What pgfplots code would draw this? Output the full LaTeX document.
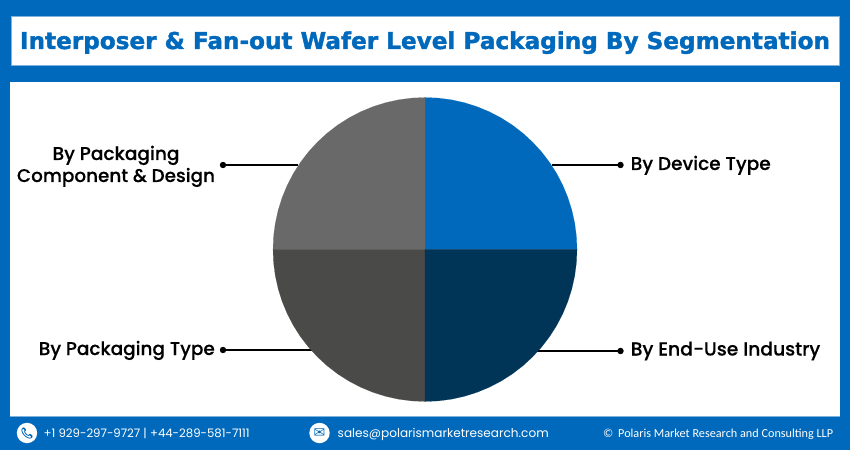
\documentclass[border=0pt]{standalone}
\usepackage{pgfplots}
\pgfplotsset{compat=1.18}
\usepackage{fontspec}
\setmainfont{Poppins}
\newfontfamily\titlefont{DejaVu Sans Bold}[FakeBold=1.6]
\newfontfamily\labelfont{Poppins Medium}[FakeBold=0.2]
\newfontfamily\copyfont{Carlito}
\newfontfamily\symfont{DejaVu Sans}
\newfontfamily\emojifont{Noto Emoji}[FakeBold=2]
\definecolor{pblue}{HTML}{0069BB}
\definecolor{pgrayA}{HTML}{696969}
\definecolor{pgrayB}{HTML}{4A4A48}
\definecolor{pnavy}{HTML}{003557}
\definecolor{pedge}{HTML}{7FB2DC}
\newcommand{\fit}[2]{\resizebox{#1pt}{!}{#2}}
\begin{document}
\begin{tikzpicture}[x=1pt,y=1pt]
\useasboundingbox (0,0) rectangle (850,450);
\fill[pblue] (0,0) rectangle (850,450);
\fill[white] (10,34) rectangle (840,368);
\draw[pedge,line width=0.7pt] (10,33.8) -- (840,33.8);
\draw[pedge,line width=0.7pt,fill=white] (11.3,385) rectangle (839.7,434);
\begin{axis}[at={(0,0)},anchor=south west,scale only axis,width=850pt,height=450pt,
  xmin=-425,xmax=425,ymin=-200.5,ymax=249.5,hide axis,clip=false]
% leader lines
\addplot[black,line width=1.1pt,mark=*,mark size=2.6pt,mark indices={2}] coordinates {(127,84.5) (195.5,84.5)};
\addplot[black,line width=1.1pt,mark=*,mark size=2.6pt,mark indices={2}] coordinates {(100,-101.5) (195.5,-101.5)};
\addplot[black,line width=1.1pt,mark=*,mark size=2.6pt,mark indices={2}] coordinates {(-127,84.5) (-202,84.5)};
\addplot[black,line width=1.1pt,mark=*,mark size=2.6pt,mark indices={2}] coordinates {(-100,-100.5) (-202,-100.5)};
% four equal wedges, 25 % each
\addplot[fill=pblue,draw=pblue,line width=0.1pt,data cs=polar] coordinates {(0,0) (0,152) (5,152) (10,152) (15,152) (20,152) (25,152) (30,152) (35,152) (40,152) (45,152) (50,152) (55,152) (60,152) (65,152) (70,152) (75,152) (80,152) (85,152) (90,152)} -- cycle;
\addplot[fill=pgrayA,draw=pgrayA,line width=0.1pt,data cs=polar] coordinates {(0,0) (90,152) (95,152) (100,152) (105,152) (110,152) (115,152) (120,152) (125,152) (130,152) (135,152) (140,152) (145,152) (150,152) (155,152) (160,152) (165,152) (170,152) (175,152) (180,152)} -- cycle;
\addplot[fill=pgrayB,draw=pgrayB,line width=0.1pt,data cs=polar] coordinates {(0,0) (180,152) (185,152) (190,152) (195,152) (200,152) (205,152) (210,152) (215,152) (220,152) (225,152) (230,152) (235,152) (240,152) (245,152) (250,152) (255,152) (260,152) (265,152) (270,152)} -- cycle;
\addplot[fill=pnavy,draw=pnavy,line width=0.1pt,data cs=polar] coordinates {(0,0) (270,152) (275,152) (280,152) (285,152) (290,152) (295,152) (300,152) (305,152) (310,152) (315,152) (320,152) (325,152) (330,152) (335,152) (340,152) (345,152) (350,152) (355,152) (360,152)} -- cycle;
\end{axis}
% title
\node[text=pblue,inner sep=0pt,anchor=base] at (425,401) {\fit{810}{\titlefont Interposer \& Fan-out Wafer Level Packaging By Segmentation}};
% labels
\node[inner sep=0pt,anchor=base] at (116,290) {\fit{127}{\labelfont By Packaging}};
\node[inner sep=0pt,anchor=base] at (116,268) {\fit{198}{\labelfont Component \& Design}};
\node[inner sep=0pt,anchor=base west] at (630.5,280) {\fit{140}{\labelfont By Device Type}};
\node[inner sep=0pt,anchor=base west] at (630.5,94.5) {\fit{189.5}{\labelfont By End-Use Industry}};
\node[inner sep=0pt,anchor=base east] at (215,95) {\fit{176}{\labelfont By Packaging Type}};
% footer
\fill[white] (27,17) circle (10.2);
\fill[white] (319.5,17) circle (10.2);
\node[text=pblue,inner sep=0pt] at (27,17) {\emojifont\fontsize{10.5}{10.5}\selectfont 📞};
\node[text=pblue,inner sep=0pt] at (319.5,17) {\symfont\fontsize{14}{14}\selectfont ✉};
\node[text=white,inner sep=0pt,anchor=base west] at (43.5,13) {\fit{206}{+1 929-297-9727 | +44-289-581-7111}};
\node[text=white,inner sep=0pt,anchor=base west] at (337.5,13) {\fit{211}{sales@polarismarketresearch.com}};
\node[text=white,inner sep=0pt,anchor=base west] at (603,13) {\fit{230}{\copyfont © \,Polaris Market Research and Consulting LLP}};
\end{tikzpicture}
\end{document}
